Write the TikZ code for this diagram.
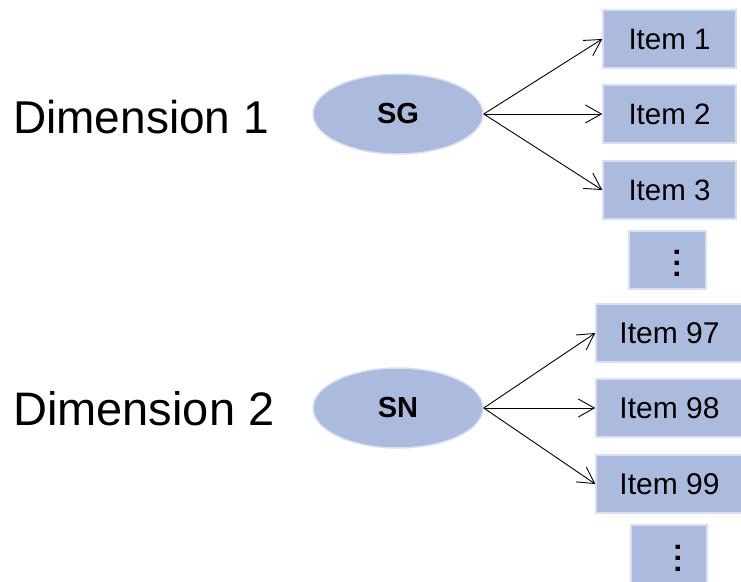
\documentclass[tikz,border=0pt]{standalone}
\usepackage{fontspec}
\setmainfont{Liberation Sans}
\usetikzlibrary{shapes.geometric,arrows.meta}
\definecolor{boxfill}{HTML}{ABBADD}
\definecolor{boxline}{HTML}{D6E0F2}
\tikzset{
  itembox/.style={rectangle, fill=boxfill, draw=boxline, line width=1.5pt, inner sep=0pt},
  factor/.style={ellipse, fill=boxfill, draw=boxline, line width=1.5pt, inner sep=0pt,
    minimum width=170pt, minimum height=80pt, font=\bfseries\fontsize{29}{34}\selectfont},
  dimlabel/.style={anchor=base west, inner sep=0pt},
  arr/.style={-{Straight Barb[length=16pt,width=18pt]}, line width=0.9pt, black},
  dotstext/.style={inner sep=0pt, rotate=90, font=\bfseries\fontsize{30}{36}\selectfont}
}
\begin{document}
\begin{tikzpicture}[x=1pt,y=-1pt]
\useasboundingbox (0,0) rectangle (741,581);
\clip (0,0) rectangle (741,581);
% Dimension 1
\node[dimlabel, font=\fontsize{46}{55}\selectfont] (dim1) at (13,133) {Dimension 1};
\node[factor] (sg) at (398,114) {SG};
\node[itembox, minimum width=133pt, minimum height=58pt, font=\fontsize{29.5}{34}\selectfont] (i1) at (669.5,39) {Item 1};
\node[itembox, minimum width=133pt, minimum height=58pt, font=\fontsize{29.5}{34}\selectfont] (i2) at (669.5,114) {Item 2};
\node[itembox, minimum width=133pt, minimum height=58pt, font=\fontsize{29.5}{34}\selectfont] (i3) at (669.5,190) {Item 3};
\node[itembox, minimum width=77pt, minimum height=58pt] (d1) at (667.5,260) {};
\node[dotstext] (d1t) at (677,263) {.\kern2.6pt.\kern2.6pt.};
\draw[arr] (sg.east) -- (i1.west);
\draw[arr] (sg.east) -- (i2.west);
\draw[arr] (sg.east) -- (i3.west);
% Dimension 2
\node[dimlabel, font=\fontsize{47}{56}\selectfont] (dim2) at (13,425) {Dimension 2};
\node[factor] (sn) at (398,408) {SN};
\node[itembox, minimum width=147pt, minimum height=58pt, font=\fontsize{30}{36}\selectfont] (i97) at (669.5,333) {Item 97};
\node[itembox, minimum width=147pt, minimum height=58pt, font=\fontsize{30}{36}\selectfont] (i98) at (669.5,408) {Item 98};
\node[itembox, minimum width=147pt, minimum height=58pt, font=\fontsize{30}{36}\selectfont] (i99) at (669.5,484) {Item 99};
\node[itembox, minimum width=76pt, minimum height=60pt] (d2) at (669,555) {};
\node[dotstext] (d2t) at (678,558) {.\kern2.6pt.\kern2.6pt.};
\draw[arr] (sn.east) -- (i97.west);
\draw[arr] (sn.east) -- (i98.west);
\draw[arr] (sn.east) -- (i99.west);
\end{tikzpicture}
\end{document}
